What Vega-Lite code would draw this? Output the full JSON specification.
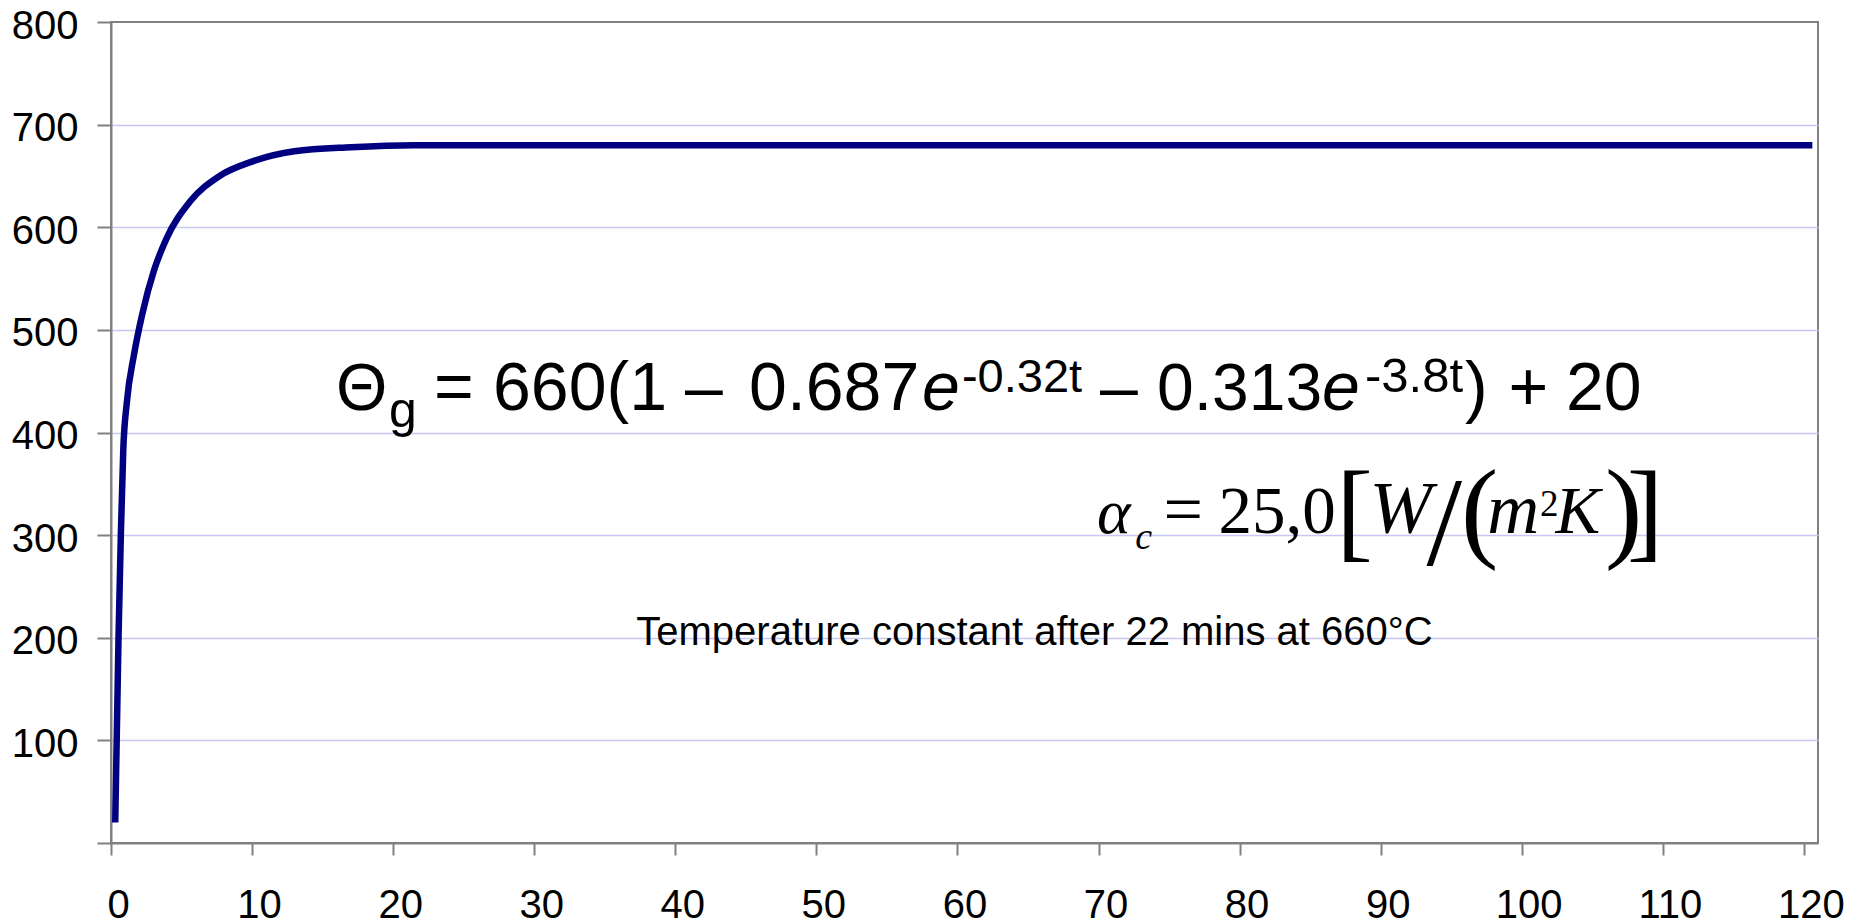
{
  "$schema": "https://vega.github.io/schema/vega-lite/v6.json",
  "width": 1707,
  "height": 821,
  "autosize": {"type": "none"},
  "padding": {"left": 111, "top": 22, "right": 40, "bottom": 79},
  "background": "white",
  "config": {
    "view": {"stroke": "#808080", "strokeWidth": 2},
    "axis": {"domainColor": "#808080", "domainWidth": 2, "tickColor": "#808080", "tickWidth": 2, "labelFont": "Liberation Sans", "labelFontSize": 40, "labelColor": "#000000"}
  },
  "layer": [
    {
      "data": {"values": [
        {"t": 0.3, "temp": 20},
        {"t": 0.53, "temp": 198},
        {"t": 0.7, "temp": 302},
        {"t": 0.87, "temp": 383},
        {"t": 1.12, "temp": 429},
        {"t": 1.62, "temp": 475},
        {"t": 2.21, "temp": 515},
        {"t": 3.05, "temp": 558},
        {"t": 3.9, "temp": 588},
        {"t": 5.6, "temp": 625},
        {"t": 7.7, "temp": 650},
        {"t": 10, "temp": 664},
        {"t": 13, "temp": 674},
        {"t": 17, "temp": 678},
        {"t": 21.5, "temp": 680},
        {"t": 30, "temp": 680},
        {"t": 60, "temp": 680},
        {"t": 90, "temp": 680},
        {"t": 120.6, "temp": 680}
      ]},
      "mark": {"type": "line", "color": "#000080", "strokeWidth": 6.5, "strokeJoin": "round", "interpolate": "monotone"},
      "encoding": {
        "x": {"field": "t", "type": "quantitative", "scale": {"domain": [0, 121], "nice": false, "zero": false},
              "axis": {"title": null, "values": [0,10,20,30,40,50,60,70,80,90,100,110,120], "tickSize": 12, "labelPadding": 30, "labelOffset": 7, "labelBaseline": "top", "grid": false, "labelFlush": false, "labelOverlap": false}},
        "y": {"field": "temp", "type": "quantitative", "scale": {"domain": [0, 800], "nice": false},
              "axis": {"title": null, "values": [0,100,200,300,400,500,600,700,800], "tickSize": 14, "labelPadding": 19, "labelOffset": 4, "labelExpr": "datum.value == 0 ? '' : datum.label", "grid": true, "gridWidth": 1.5,
                       "gridColor": {"condition": {"test": "datum.value == 0 || datum.value == 800", "value": "transparent"}, "value": "#c8c8f4"}, "labelFlush": false, "labelOverlap": false}}
      }
    },
    {"data": {"values": [{}]}, "mark": {"type": "text", "text": "Θ", "align": "left", "baseline": "alphabetic", "font": "Liberation Sans", "fontSize": 66, "color": "#000000"},
     "encoding": {"x": {"datum": 15.95, "type": "quantitative"}, "y": {"datum": 421.9, "type": "quantitative"}}},
    {"data": {"values": [{}]}, "mark": {"type": "text", "text": "g", "align": "left", "baseline": "alphabetic", "font": "Liberation Sans", "fontSize": 50, "color": "#000000"},
     "encoding": {"x": {"datum": 19.71, "type": "quantitative"}, "y": {"datum": 405.8, "type": "quantitative"}}},
    {"data": {"values": [{}]}, "mark": {"type": "text", "text": "=", "align": "left", "baseline": "alphabetic", "font": "Liberation Sans", "fontSize": 68, "color": "#000000"},
     "encoding": {"x": {"datum": 22.9, "type": "quantitative"}, "y": {"datum": 421.9, "type": "quantitative"}}},
    {"data": {"values": [{}]}, "mark": {"type": "text", "text": "660(1", "align": "left", "baseline": "alphabetic", "font": "Liberation Sans", "fontSize": 68, "color": "#000000"},
     "encoding": {"x": {"datum": 27.08, "type": "quantitative"}, "y": {"datum": 421.9, "type": "quantitative"}}},
    {"data": {"values": [{}]}, "mark": {"type": "text", "text": "–", "align": "left", "baseline": "alphabetic", "font": "Liberation Sans", "fontSize": 68, "color": "#000000"},
     "encoding": {"x": {"datum": 40.69, "type": "quantitative"}, "y": {"datum": 421.9, "type": "quantitative"}}},
    {"data": {"values": [{}]}, "mark": {"type": "text", "text": "0.687", "align": "left", "baseline": "alphabetic", "font": "Liberation Sans", "fontSize": 68, "color": "#000000"},
     "encoding": {"x": {"datum": 45.23, "type": "quantitative"}, "y": {"datum": 421.9, "type": "quantitative"}}},
    {"data": {"values": [{}]}, "mark": {"type": "text", "text": "e", "align": "left", "baseline": "alphabetic", "font": "Liberation Sans", "fontStyle": "italic", "fontSize": 68, "color": "#000000"},
     "encoding": {"x": {"datum": 57.49, "type": "quantitative"}, "y": {"datum": 421.9, "type": "quantitative"}}},
    {"data": {"values": [{}]}, "mark": {"type": "text", "text": "-0.32t", "align": "left", "baseline": "alphabetic", "font": "Liberation Sans", "fontSize": 47, "color": "#000000"},
     "encoding": {"x": {"datum": 60.32, "type": "quantitative"}, "y": {"datum": 439.5, "type": "quantitative"}}},
    {"data": {"values": [{}]}, "mark": {"type": "text", "text": "–", "align": "left", "baseline": "alphabetic", "font": "Liberation Sans", "fontSize": 68, "color": "#000000"},
     "encoding": {"x": {"datum": 70.11, "type": "quantitative"}, "y": {"datum": 421.9, "type": "quantitative"}}},
    {"data": {"values": [{}]}, "mark": {"type": "text", "text": "0.313", "align": "left", "baseline": "alphabetic", "font": "Liberation Sans", "fontSize": 66, "color": "#000000"},
     "encoding": {"x": {"datum": 74.15, "type": "quantitative"}, "y": {"datum": 421.9, "type": "quantitative"}}},
    {"data": {"values": [{}]}, "mark": {"type": "text", "text": "e", "align": "left", "baseline": "alphabetic", "font": "Liberation Sans", "fontStyle": "italic", "fontSize": 68, "color": "#000000"},
     "encoding": {"x": {"datum": 85.84, "type": "quantitative"}, "y": {"datum": 421.9, "type": "quantitative"}}},
    {"data": {"values": [{}]}, "mark": {"type": "text", "text": "-3.8t", "align": "left", "baseline": "alphabetic", "font": "Liberation Sans", "fontSize": 49, "color": "#000000"},
     "encoding": {"x": {"datum": 88.89, "type": "quantitative"}, "y": {"datum": 439.5, "type": "quantitative"}}},
    {"data": {"values": [{}]}, "mark": {"type": "text", "text": ")", "align": "left", "baseline": "alphabetic", "font": "Liberation Sans", "fontSize": 68, "color": "#000000"},
     "encoding": {"x": {"datum": 95.98, "type": "quantitative"}, "y": {"datum": 421.9, "type": "quantitative"}}},
    {"data": {"values": [{}]}, "mark": {"type": "text", "text": "+", "align": "left", "baseline": "alphabetic", "font": "Liberation Sans", "fontSize": 68, "color": "#000000"},
     "encoding": {"x": {"datum": 99.07, "type": "quantitative"}, "y": {"datum": 421.9, "type": "quantitative"}}},
    {"data": {"values": [{}]}, "mark": {"type": "text", "text": "20", "align": "left", "baseline": "alphabetic", "font": "Liberation Sans", "fontSize": 68, "color": "#000000"},
     "encoding": {"x": {"datum": 103.14, "type": "quantitative"}, "y": {"datum": 421.9, "type": "quantitative"}}},

    {"data": {"values": [{}]}, "mark": {"type": "text", "text": "α", "align": "left", "baseline": "alphabetic", "font": "Liberation Serif", "fontStyle": "italic", "fontSize": 64, "color": "#000000"},
     "encoding": {"x": {"datum": 69.89, "type": "quantitative"}, "y": {"datum": 302.07, "type": "quantitative"}}},
    {"data": {"values": [{}]}, "mark": {"type": "text", "text": "c", "align": "left", "baseline": "alphabetic", "font": "Liberation Serif", "fontStyle": "italic", "fontSize": 38, "color": "#000000"},
     "encoding": {"x": {"datum": 72.6, "type": "quantitative"}, "y": {"datum": 286.5, "type": "quantitative"}}},
    {"data": {"values": [{}]}, "mark": {"type": "text", "text": "=", "align": "left", "baseline": "alphabetic", "font": "Liberation Serif", "fontSize": 70, "color": "#000000"},
     "encoding": {"x": {"datum": 74.6, "type": "quantitative"}, "y": {"datum": 302.07, "type": "quantitative"}}},
    {"data": {"values": [{}]}, "mark": {"type": "text", "text": "25,0", "align": "left", "baseline": "alphabetic", "font": "Liberation Serif", "fontSize": 67, "color": "#000000"},
     "encoding": {"x": {"datum": 78.5, "type": "quantitative"}, "y": {"datum": 302.07, "type": "quantitative"}}},
    {"data": {"values": [{}]}, "mark": {"type": "text", "text": "[", "align": "left", "baseline": "alphabetic", "font": "Liberation Serif", "fontSize": 110, "color": "#000000"},
     "encoding": {"x": {"datum": 86.85, "type": "quantitative"}, "y": {"datum": 288.8, "type": "quantitative"}}},
    {"data": {"values": [{}]}, "mark": {"type": "text", "text": "W", "align": "left", "baseline": "alphabetic", "font": "Liberation Serif", "fontStyle": "italic", "fontSize": 75, "color": "#000000"},
     "encoding": {"x": {"datum": 89.2, "type": "quantitative"}, "y": {"datum": 302.07, "type": "quantitative"}}},
    {"data": {"values": [{}]}, "mark": {"type": "text", "text": "/", "align": "left", "baseline": "alphabetic", "font": "Liberation Serif", "fontSize": 128, "color": "#000000"},
     "encoding": {"x": {"datum": 93.25, "type": "quantitative"}, "y": {"datum": 270.5, "type": "quantitative"}}},
    {"data": {"values": [{}]}, "mark": {"type": "text", "text": "(", "align": "left", "baseline": "alphabetic", "font": "Liberation Serif", "fontSize": 112, "color": "#000000"},
     "encoding": {"x": {"datum": 95.7, "type": "quantitative"}, "y": {"datum": 288.4, "type": "quantitative"}}},
    {"data": {"values": [{}]}, "mark": {"type": "text", "text": "m", "align": "left", "baseline": "alphabetic", "font": "Liberation Serif", "fontStyle": "italic", "fontSize": 72, "color": "#000000"},
     "encoding": {"x": {"datum": 97.55, "type": "quantitative"}, "y": {"datum": 302.07, "type": "quantitative"}}},
    {"data": {"values": [{}]}, "mark": {"type": "text", "text": "2", "align": "left", "baseline": "alphabetic", "font": "Liberation Serif", "fontSize": 37, "color": "#000000"},
     "encoding": {"x": {"datum": 101.3, "type": "quantitative"}, "y": {"datum": 318.5, "type": "quantitative"}}},
    {"data": {"values": [{}]}, "mark": {"type": "text", "text": "K", "align": "left", "baseline": "alphabetic", "font": "Liberation Serif", "fontStyle": "italic", "fontSize": 67, "color": "#000000"},
     "encoding": {"x": {"datum": 102.4, "type": "quantitative"}, "y": {"datum": 302.07, "type": "quantitative"}}},
    {"data": {"values": [{}]}, "mark": {"type": "text", "text": ")", "align": "left", "baseline": "alphabetic", "font": "Liberation Serif", "fontSize": 112, "color": "#000000"},
     "encoding": {"x": {"datum": 105.9, "type": "quantitative"}, "y": {"datum": 288.4, "type": "quantitative"}}},
    {"data": {"values": [{}]}, "mark": {"type": "text", "text": "]", "align": "left", "baseline": "alphabetic", "font": "Liberation Serif", "fontSize": 110, "color": "#000000"},
     "encoding": {"x": {"datum": 107.45, "type": "quantitative"}, "y": {"datum": 288.8, "type": "quantitative"}}},

    {"data": {"values": [{}]}, "mark": {"type": "text", "text": "Temperature constant after 22 mins at 660°C", "align": "center", "baseline": "alphabetic", "font": "Liberation Sans", "fontSize": 40, "color": "#000000"},
     "encoding": {"x": {"datum": 65.46, "type": "quantitative"}, "y": {"datum": 192.9, "type": "quantitative"}}}
  ]
}
